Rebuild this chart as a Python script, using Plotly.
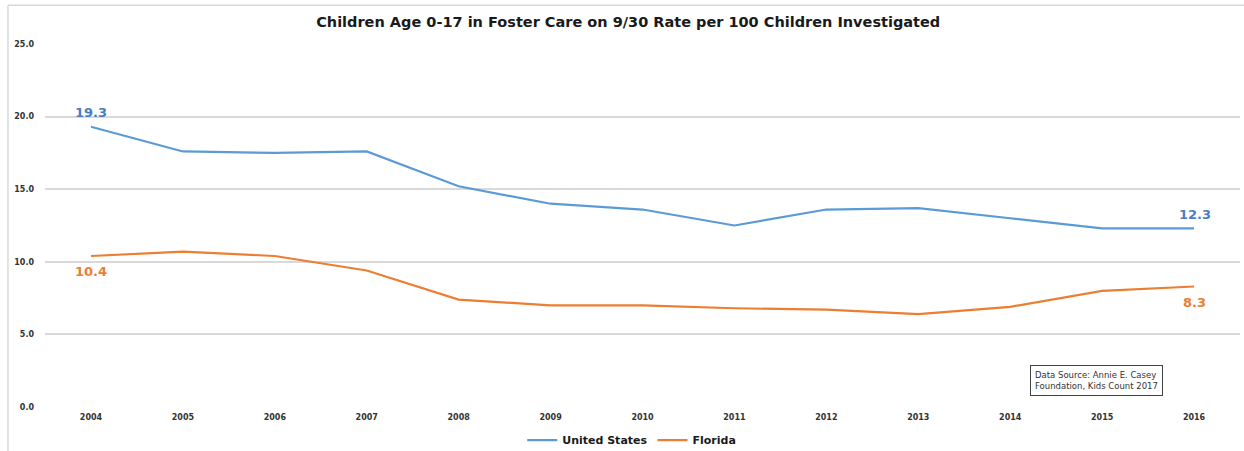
import plotly.graph_objects as go

years = ["2004", "2005", "2006", "2007", "2008", "2009", "2010",
         "2011", "2012", "2013", "2014", "2015", "2016"]
united_states = [19.3, 17.6, 17.5, 17.6, 15.2, 14.0, 13.6, 12.5, 13.6, 13.7, 13.0, 12.3, 12.3]
florida = [10.4, 10.7, 10.4, 9.4, 7.4, 7.0, 7.0, 6.8, 6.7, 6.4, 6.9, 8.0, 8.3]
y_ticks = [0, 5, 10, 15, 20, 25]

BLUE = "#5B9BD5"
ORANGE = "#ED7D31"
FONT = "DejaVu Sans"

fig = go.Figure()
fig.add_trace(go.Scatter(x=years, y=united_states, name="United States", mode="lines",
                         line=dict(color=BLUE, width=2.2)))
fig.add_trace(go.Scatter(x=years, y=florida, name="Florida", mode="lines",
                         line=dict(color=ORANGE, width=2.2)))

# end-point labels (category axis -> use category index)
last = len(years) - 1
label_font = dict(size=13, family=FONT, weight="bold")
fig.add_annotation(x=0, y=united_states[0], text="%.1f" % united_states[0],
                   showarrow=False, yshift=14, font=dict(label_font, color="#4A7CC0"))
fig.add_annotation(x=last, y=united_states[-1], text="%.1f" % united_states[-1],
                   showarrow=False, yshift=14, xshift=1, font=dict(label_font, color="#4A7CC0"))
fig.add_annotation(x=0, y=florida[0], text="%.1f" % florida[0],
                   showarrow=False, yshift=-16, font=dict(label_font, color=ORANGE))
fig.add_annotation(x=last, y=florida[-1], text="%.1f" % florida[-1],
                   showarrow=False, yshift=-16, xshift=0, font=dict(label_font, color=ORANGE))

# source note
fig.add_annotation(xref="paper", yref="paper", x=0.88, y=0.074, xanchor="center", yanchor="middle",
                   text="Data Source: Annie E. Casey<br>Foundation, Kids Count 2017",
                   showarrow=False, align="left", bordercolor="#404040", borderwidth=1, borderpad=4,
                   font=dict(size=8.5, family=FONT, color="#333333"))

# outer frame lines of the screenshot
fig.add_shape(type="line", xref="paper", yref="paper", x0=-0.031, x1=1.01, y0=1.107, y1=1.107,
              line=dict(color="#D9D9D9", width=1.5))
fig.add_shape(type="line", xref="paper", yref="paper", x0=-0.031, x1=-0.031, y0=-0.13, y1=1.107,
              line=dict(color="#D9D9D9", width=1.5))

fig.update_layout(
    width=1244, height=451,
    margin=dict(l=45, r=4, t=44, b=44, autoexpand=False),
    paper_bgcolor="white", plot_bgcolor="white",
    title=dict(text="Children Age 0-17 in Foster Care on 9/30 Rate per 100 Children Investigated",
               x=0.505, xanchor="center", y=0.952, yanchor="middle",
               font=dict(size=14.5, family=FONT, color="#1a1a1a", weight="bold")),
    legend=dict(orientation="h", x=0.491, xanchor="center", y=-0.091, yanchor="middle",
                font=dict(size=11, family=FONT, color="#1a1a1a", weight="bold"),
                itemwidth=30, traceorder="normal"),
    xaxis=dict(type="category", range=[-0.5, 12.5], showgrid=False, showline=False, ticks="",
               ticklabelstandoff=4,
               tickfont=dict(size=8, family=FONT, color="#333333", weight="bold")),
    yaxis=dict(range=[0, 25], tickvals=y_ticks, tickformat=".1f", showgrid=True, gridcolor="#D9D9D9",
               gridwidth=1.5, zeroline=False, showline=False, ticks="", ticklabelstandoff=10,
               tickfont=dict(size=8, family=FONT, color="#333333", weight="bold")),
)

# drop the browser's default body margin so the figure sits at the window corner
fig.write_html("out.html", config={"displayModeBar": False},
               post_script="document.body.style.margin='0px';")
